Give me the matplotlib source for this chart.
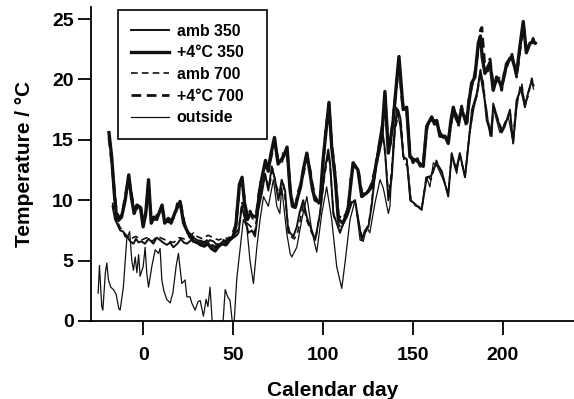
import numpy as np
import matplotlib
matplotlib.use('Agg')
import matplotlib.pyplot as plt

# (calendar day, temperature degC)
heat350 = [(-19, 15.6), (-17.5, 13.6), (-16, 10.5), (-15, 8.9), (-14, 8.3), (-12, 8.6), (-10, 10.0),
           (-8, 12.1), (-6.5, 10.2), (-5, 8.9), (-3.5, 9.6), (-1.5, 9.4), (0, 7.8), (1.5, 9.0), (3, 11.7),
           (4.5, 8.1), (6, 8.6), (7.5, 8.4), (9, 9.0), (10.5, 9.6), (12, 8.1), (14, 8.5), (15.5, 8.1),
           (17.5, 8.9), (19, 9.4), (20.5, 9.9), (22.5, 8.1), (24, 7.6), (26, 7.0), (28, 6.6), (30, 6.5),
           (32, 6.3), (34, 6.2), (36, 6.4), (38, 6.0), (40, 5.8), (42, 6.2), (44, 6.4), (46, 6.3),
           (48, 6.7), (50, 7.0), (51.5, 7.8), (53.5, 11.3), (55, 11.9), (56.5, 9.5), (58, 8.4),
           (59.5, 8.9), (61, 8.7), (63, 8.6), (65, 11.0), (66.5, 12.2), (68, 13.3), (69.5, 12.4),
           (71, 13.8), (73, 15.2), (75, 13.0), (77, 13.4), (78, 13.6), (80, 14.4), (81.7, 10.8),
           (83, 9.5), (84.5, 9.4), (86, 10.3), (87.5, 11.1), (89, 12.5), (91, 13.9), (92.8, 12.2),
           (94, 11.0), (95.6, 10.0), (98.3, 9.8), (100, 13.3), (101.5, 15.5), (103.3, 18.1),
           (104.8, 14.4), (106.7, 11.9), (108.5, 8.4), (111, 8.1), (112.5, 8.6), (114, 9.4),
           (115.5, 11.5), (116.7, 13.1), (119.4, 12.5), (121.5, 10.3), (124.3, 10.6), (127, 11.1),
           (128.5, 12.0), (129.8, 13.3), (131, 14.0), (132.6, 15.2), (134.4, 19.0), (136.3, 13.9),
           (137.5, 15.0), (139, 16.6), (141, 20.0), (142.2, 21.9), (144, 18.5), (144.6, 17.5),
           (146.5, 17.7), (148.3, 13.6), (150, 13.4), (152, 13.3), (154, 13.0), (155.7, 12.8),
           (157.6, 16.1), (159, 16.5), (160.4, 16.9), (162, 16.3), (163.2, 16.6), (165, 15.3),
           (167.8, 15.3), (169.6, 14.7), (171, 16.5), (172.4, 17.7), (174, 16.8), (175.2, 16.4),
           (177, 17.5), (179.8, 16.4), (181, 18.0), (182.6, 19.7), (184.4, 20.2), (186.3, 23.0),
           (187.5, 23.6), (188.5, 21.8), (190, 20.5), (191.5, 21.0), (192.8, 21.4), (194.6, 19.1),
           (196.5, 20.2), (198, 19.8), (199.3, 19.4), (201, 20.5), (202, 21.3), (204.8, 21.9),
           (207.6, 20.5), (209.4, 22.7), (211.3, 24.8), (213, 22.2), (215, 23.0), (216.8, 23.1),
           (218, 23.0)]

heat700 = [(-19, 15.2), (-17.5, 13.2), (-16, 10.8), (-15, 9.2), (-13.5, 8.5), (-11.5, 8.9), (-10, 10.3),
           (-8, 11.8), (-6.5, 10.5), (-5, 9.2), (-3.5, 9.3), (-1.5, 9.7), (0, 8.1), (1.5, 8.8), (3, 11.4),
           (4.5, 8.4), (6, 8.4), (7.5, 8.7), (9, 9.2), (10.5, 9.3), (12, 8.4), (14, 8.2), (15.5, 8.4),
           (17.5, 8.6), (19, 9.7), (20.5, 10.0), (22.5, 8.4), (24, 7.4), (26, 7.2), (28, 6.9), (30, 6.7),
           (32, 6.6), (34, 6.5), (36, 6.7), (38, 6.3), (40, 6.1), (42, 6.4), (44, 6.7), (46, 6.6),
           (48, 6.9), (50, 7.3), (51.5, 8.0), (53.5, 11.0), (55, 11.6), (56.5, 9.8), (58, 8.7),
           (59.5, 9.1), (61, 8.5), (63, 8.9), (65, 11.3), (66.5, 12.0), (68, 13.0), (69.5, 12.7),
           (71, 13.5), (73, 14.9), (75, 13.3), (77, 13.1), (78, 13.9), (80, 14.1), (81.7, 11.1),
           (83, 9.8), (84.5, 9.2), (86, 10.6), (87.5, 11.3), (89, 12.2), (91, 13.6), (92.8, 12.5),
           (94, 11.3), (95.6, 10.3), (98.3, 9.6), (100, 13.0), (101.5, 15.8), (103.3, 17.8),
           (104.8, 14.7), (106.7, 12.2), (108.5, 8.7), (111, 8.4), (112.5, 8.8), (114, 9.2),
           (115.5, 11.8), (116.7, 12.8), (119.4, 12.7), (121.5, 10.6), (124.3, 10.4), (127, 11.4),
           (128.5, 12.3), (129.8, 13.0), (131, 14.3), (132.6, 15.0), (134.4, 18.6), (136.3, 14.2),
           (137.5, 14.7), (139, 16.9), (141, 19.7), (142.2, 21.5), (144, 18.2), (144.6, 17.8),
           (146.5, 17.4), (148.3, 13.9), (150, 13.1), (152, 13.6), (154, 12.8), (155.7, 13.1),
           (157.6, 15.8), (159, 16.8), (160.4, 16.6), (162, 16.6), (163.2, 16.3), (165, 15.6),
           (167.8, 15.0), (169.6, 15.0), (171, 16.2), (172.4, 17.4), (174, 17.1), (175.2, 16.1),
           (177, 17.8), (179.8, 16.1), (181, 18.3), (182.6, 19.4), (184.4, 20.5), (186.3, 22.5),
           (187.5, 24.1), (188.3, 24.3), (188.8, 23.2), (189.5, 22.0), (190, 20.8), (191.5, 20.7),
           (192.8, 21.7), (194.6, 19.4), (196.5, 19.9), (198, 20.1), (199.3, 19.1), (201, 20.8),
           (202, 21.0), (204.8, 22.2), (207.6, 20.2), (209.4, 22.4), (211.3, 24.4), (213, 22.5),
           (215, 22.7), (216.8, 23.4), (218, 22.8)]

amb350 = [(-17, 9.5), (-15.6, 8.4), (-14, 7.9), (-12.8, 7.5), (-11, 7.4), (-10, 7.0), (-8.5, 6.9),
          (-7.2, 6.6), (-5.4, 6.4), (-4, 6.8), (-2.5, 6.5), (-1, 6.6), (1, 6.4), (3, 6.8), (5.7, 6.4),
          (7.5, 6.9), (9.4, 6.7), (11, 6.5), (13.2, 6.3), (15, 6.5), (16.8, 6.1), (19, 6.4), (21, 6.8),
          (22.5, 6.5), (24.3, 6.4), (26, 6.6), (27.9, 6.9), (30, 6.7), (32, 6.6), (33.5, 6.3),
          (35.4, 6.4), (37, 6.7), (39, 6.6), (41, 6.3), (42.8, 6.4), (44.5, 6.6), (46.5, 6.5),
          (48.3, 6.7), (50.2, 6.9), (52, 7.1), (53, 7.3), (54.8, 9.5), (56.7, 8.4), (58.5, 7.3),
          (60.4, 7.5), (62.2, 7.0), (64, 9.2), (66, 10.6), (67.8, 12.2), (69.6, 10.8), (71.5, 12.8),
          (73.3, 11.7), (75.2, 10.0), (77, 11.7), (78.9, 10.8), (80.7, 7.3), (81.7, 7.3), (83.5, 7.0),
          (85.4, 7.8), (87, 9.0), (89, 10.0), (91, 8.6), (93.7, 7.5), (95.6, 6.7), (98.3, 8.9),
          (101, 12.5), (102.9, 14.2), (103.9, 13.1), (105.7, 8.9), (107.6, 8.1), (109.4, 7.3),
          (111.3, 8.1), (113.2, 8.6), (116, 9.8), (117.8, 10.0), (119.6, 8.4), (121.5, 6.7),
          (123.3, 7.5), (125.2, 7.8), (127, 9.5), (128.9, 12.2), (130.7, 14.4), (132.6, 16.1),
          (134.4, 14.2), (136.3, 10.0), (138.2, 11.9), (140, 16.1), (141.7, 17.5), (143, 16.8),
          (144.6, 13.6), (146.5, 13.4), (148.7, 10.0), (151, 9.7), (154.8, 9.2), (157.6, 11.9),
          (160, 12.0), (163, 13.1), (166, 12.4), (169.6, 10.3), (171.5, 13.9), (174, 12.5),
          (176, 13.9), (178.9, 11.9), (181.7, 15.8), (183.5, 17.5), (185.7, 18.9), (187.5, 20.8),
          (189, 19.5), (191, 16.6), (193.7, 15.3), (194.6, 18.0), (196.5, 17.0), (199.3, 15.6),
          (201, 16.1), (203.9, 17.5), (205.7, 14.7), (207.6, 18.3), (210.4, 19.4), (212.2, 17.7),
          (214, 18.9), (216, 19.9), (217, 19.5)]

amb700 = [(-17, 9.8), (-15.5, 8.6), (-13, 7.8), (-10, 7.2), (-7, 6.8), (-4, 7.0), (-1, 6.7), (2, 6.9),
          (5, 6.6), (8, 7.0), (11, 6.8), (14, 6.6), (17, 6.5), (20, 6.9), (23, 6.8), (26, 7.0),
          (28, 7.3), (30, 7.0), (33, 6.8), (36, 7.1), (39, 6.9), (42, 6.7), (45, 6.9), (48, 6.8),
          (51, 7.2), (53, 7.6), (55, 9.8), (57, 8.2), (60, 7.8), (62, 7.3), (64, 9.5), (66, 10.9),
          (68, 12.0), (70, 11.0), (72, 12.6), (74, 11.2), (76, 10.4), (78, 11.3), (80.5, 8.0),
          (82, 7.0), (84, 6.8), (86, 7.4), (89, 9.6), (91, 8.3), (94, 7.2), (96, 6.9), (98.5, 9.1),
          (101, 12.2), (103, 13.8), (104, 12.7), (106, 8.6), (108, 8.3), (110, 7.6), (112, 8.3),
          (114, 8.9), (116, 10.1), (118, 9.7), (120, 8.0), (121.5, 7.0), (123.5, 7.2), (125.5, 8.1),
          (127, 9.8), (129, 12.5), (131, 14.6), (133, 15.7), (134.5, 13.8), (136.5, 10.3),
          (138, 12.3), (140, 15.8), (142, 17.2), (143.5, 16.2), (145, 13.2), (147, 12.8), (149, 9.8),
          (152, 9.5), (155, 9.4), (157.5, 12.1), (160, 11.7), (163, 13.3), (166, 12.2), (169.5, 10.5),
          (171.5, 13.7), (174, 12.7), (176, 13.6), (179, 12.1), (181.5, 15.5), (183.5, 17.8),
          (185.5, 18.6), (187.5, 20.4), (189, 19.8), (191, 16.9), (193.5, 15.6), (195, 17.7),
          (197, 16.8), (199.5, 15.8), (201, 16.4), (204, 17.2), (205.5, 15.0), (207.5, 18.0),
          (210.5, 19.6), (212, 18.0), (214, 18.6), (216, 20.1), (217, 19.6)]

outside = [(-25, 2.3), (-24.3, 4.6), (-23, 1.2), (-22.4, 0.9), (-21, 4.0), (-20.2, 4.8), (-19.3, 3.4),
           (-18, 2.8), (-16.5, 2.6), (-15, 2.2), (-13.5, 1.0), (-12.8, 0.9), (-11, 2.8), (-9.1, 6.8),
           (-7.5, 7.4), (-6.3, 5.0), (-5.4, 4.2), (-4.4, 5.3), (-3.5, 4.0), (-2.5, 5.5), (-1.7, 3.7),
           (0, 4.5), (1.1, 6.1), (2, 4.0), (3, 2.8), (4.8, 4.5), (6.7, 5.9), (8.5, 5.6), (9.4, 6.0),
           (10.4, 3.4), (11.5, 2.5), (13.1, 1.8), (15, 1.5), (16.5, 2.3), (18.3, 4.5), (19.6, 5.6),
           (21.5, 3.1), (23.3, 3.4), (24.3, 2.0), (26.1, 2.0), (27, 1.5), (28.9, 0.9), (30.5, 1.6),
           (31.7, 1.7), (33.5, 0.4), (35, 1.8), (36, 1.2), (37.2, 2.8), (38.5, -0.4), (40, -1.5),
           (42, -1.8), (44, -1.0), (45.6, 2.6), (47, 2.0), (48.3, 1.7), (50.2, -1.0), (52, 3.4),
           (53, 4.8), (54, 6.1), (55.7, 8.4), (57.6, 7.8), (59.4, 5.0), (61.3, 3.1), (63.2, 6.1),
           (65, 8.4), (66.9, 10.3), (69.6, 9.5), (72.4, 11.7), (74.3, 9.5), (76, 8.9), (77, 11.1),
           (79.8, 7.3), (81.7, 5.6), (82.6, 5.3), (85.4, 6.1), (88.2, 8.4), (91, 10.3), (93.7, 7.5),
           (96.5, 5.7), (99.3, 8.9), (102, 11.1), (104.8, 8.4), (107.6, 4.5), (110.4, 2.7),
           (112.2, 4.8), (115, 8.4), (117.8, 10.0), (120.6, 6.7), (122.4, 6.6), (124.3, 7.8),
           (126, 7.3), (128.9, 9.8), (131.7, 11.7), (133.5, 11.0), (136.3, 8.9), (137.2, 9.5),
           (139, 14.7), (141, 17.7), (142.8, 16.1), (144.6, 13.6), (146.5, 13.4), (148.3, 10.0),
           (151, 9.7), (154.8, 9.2), (155.7, 10.3), (157.6, 11.9), (159.4, 11.1), (161.3, 13.1),
           (163.5, 12.8), (166.8, 11.7), (169.6, 10.6), (171.5, 13.6), (174.3, 12.2), (176.1, 13.9),
           (178.9, 11.9), (180.7, 14.7), (182.6, 17.5), (185.4, 18.9), (187.2, 20.5), (189, 18.9),
           (191, 17.5), (192.8, 15.3), (194.6, 17.7), (196.5, 16.6), (198.3, 15.6), (200.2, 16.1),
           (203, 16.9), (205.7, 14.7), (207.6, 17.5), (209.4, 19.4), (212.2, 17.7), (214, 18.9),
           (215.9, 19.9), (217, 19.2)]

plt.rcParams['font.family'] = ['Liberation Sans', 'DejaVu Sans']
plt.rcParams['font.weight'] = 'bold'

fig = plt.figure(figsize=(5.74, 3.99), dpi=100)
ax = fig.add_axes([0.1585, 0.1955, 0.8415, 0.787])

k = '#111111'
series = [
    (amb350, 'amb 350', dict(color=k, lw=1.4, ls='-')),
    (heat350, '+4°C 350', dict(color=k, lw=2.4, ls='-')),
    (amb700, 'amb 700', dict(color=k, lw=1.2, ls=(0, (4, 2.5)))),
    (heat700, '+4°C 700', dict(color=k, lw=2.0, ls=(0, (3.5, 2)))),
    (outside, 'outside', dict(color=k, lw=0.9, ls='-')),
]
for data, label, style in series:
    d = np.array(data)
    ax.plot(d[:, 0], d[:, 1], label=label, **style)

ax.set_xlim(-29, 239.5)
ax.set_ylim(0, 26)
ax.set_xticks([0, 50, 100, 150, 200])
ax.set_yticks([0, 5, 10, 15, 20, 25])
ax.spines['top'].set_visible(False)
ax.spines['right'].set_visible(False)
for s in ['left', 'bottom']:
    ax.spines[s].set_linewidth(1.3)
ax.tick_params(axis='y', direction='out', length=9.5, width=1.3, pad=3, labelsize=14)
ax.tick_params(axis='x', direction='out', length=10, width=1.3, pad=9, labelsize=14)

ax.set_xlabel('Calendar day', fontsize=15, fontweight='bold', labelpad=12)
ax.set_ylabel('Temperature / °C', fontsize=15, fontweight='bold', labelpad=13)

leg = ax.legend(loc='upper left', bbox_to_anchor=(0.056, 0.0, 0.308, 0.99), mode='expand',
                borderaxespad=0, fancybox=False, framealpha=1, edgecolor='black',
                handlelength=2.4, labelspacing=0.42, fontsize=11.4, borderpad=0.85,
                handletextpad=0.45)
leg.get_frame().set_linewidth(1.2)

plt.savefig('out.png', dpi=100)
